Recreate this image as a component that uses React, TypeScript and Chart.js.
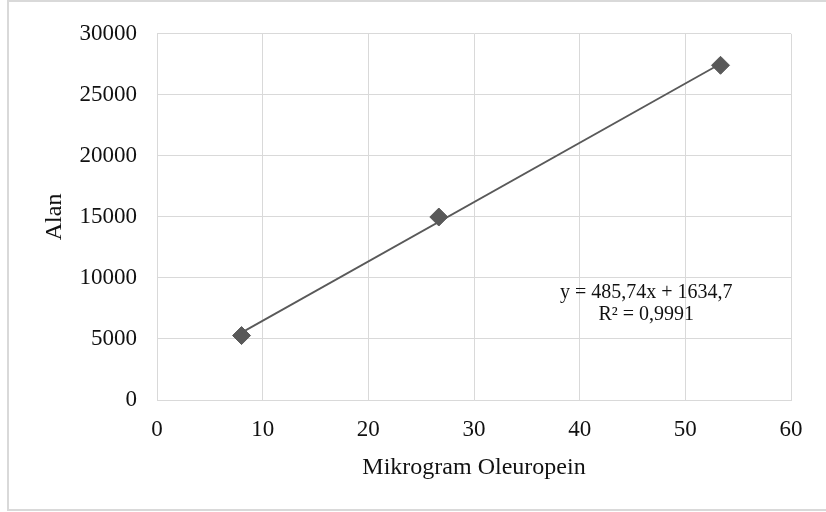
import React, { useEffect, useRef } from "react";
import { Chart, registerables } from "chart.js";

Chart.register(...registerables);

// Data
const microgramValues = [8, 26.67, 53.33];
const areaValues = [5280, 14990, 27420];

// Trendline coefficients (as printed on the chart)
const trendSlope = 485.74;
const trendIntercept = 1634.7;
const equationLines = ["y = 485,74x + 1634,7", "R\u00B2 = 0,9991"];

const xTitle = "Mikrogram Oleuropein";
const yTitle = "Alan";

const FONT = "'Liberation Serif', 'Times New Roman', serif";

export default function App() {
  const ref = useRef<HTMLCanvasElement | null>(null);

  useEffect(() => {
    if (!ref.current) return;
    const xMin = Math.min(...microgramValues);
    const xMax = Math.max(...microgramValues);
    const trend = [xMin, xMax].map((x) => ({ x, y: trendSlope * x + trendIntercept }));
    const points = microgramValues.map((x, i) => ({ x, y: areaValues[i] }));

    const equationPlugin = {
      id: "equationLabel",
      afterDatasetsDraw(chart: any) {
        const { ctx, scales } = chart;
        const cx = scales.x.getPixelForValue(46.3);
        const cy = scales.y.getPixelForValue(8750);
        ctx.save();
        ctx.font = `20px ${FONT}`;
        ctx.fillStyle = "#111";
        ctx.textAlign = "center";
        ctx.textBaseline = "middle";
        equationLines.forEach((t, i) => ctx.fillText(t, cx, cy + i * 22));
        ctx.restore();
      },
    };

    const chart = new Chart(ref.current, {
      type: "scatter",
      data: {
        datasets: [
          {
            type: "line",
            data: trend,
            borderColor: "#595959",
            borderWidth: 1.8,
            pointRadius: 0,
            fill: false,
          } as any,
          {
            data: points,
            pointStyle: "rectRot",
            pointRadius: 9,
            backgroundColor: "#595959",
            borderColor: "#595959",
            borderWidth: 1,
          },
        ],
      },
      options: {
        animation: false,
        responsive: false,
        maintainAspectRatio: false,
        layout: { padding: { left: 0, top: 30, right: 35, bottom: 0 } },
        plugins: {
          legend: { display: false },
          tooltip: { enabled: false },
        },
        scales: {
          x: {
            type: "linear",
            min: 0,
            max: 60,
            ticks: {
              stepSize: 10,
              color: "#111",
              font: { family: FONT, size: 23 },
              padding: 16,
              callback: (v: any) => String(v),
            },
            grid: { color: "#d9d9d9", lineWidth: 1, drawTicks: false },
            border: { color: "#d9d9d9", width: 1 },
            title: {
              display: true,
              text: xTitle,
              color: "#111",
              font: { family: FONT, size: 24 },
              padding: { top: 0, bottom: 30 },
            },
            afterFit(scale: any) {
              scale.height = 112;
            },
          },
          y: {
            type: "linear",
            min: 0,
            max: 30000,
            ticks: {
              stepSize: 5000,
              color: "#111",
              font: { family: FONT, size: 23 },
              padding: 20,
              callback: (v: any) => String(v),
            },
            grid: { color: "#d9d9d9", lineWidth: 1, drawTicks: false },
            border: { color: "#d9d9d9", width: 1 },
            title: {
              display: true,
              text: yTitle,
              color: "#111",
              font: { family: FONT, size: 24 },
              padding: { top: 40, bottom: 0 },
            },
            afterFit(scale: any) {
              scale.width = 157;
            },
          },
        },
      },
      plugins: [equationPlugin],
    });
    return () => chart.destroy();
  }, []);

  return (
    <div style={{ position: "absolute", left: 0, top: 0, width: 826, height: 512, background: "#fff" }}>
      <div
        style={{
          position: "absolute",
          left: 7,
          top: 0,
          width: 819,
          height: 511,
          boxSizing: "border-box",
          borderTop: "2px solid #d9d9d9",
          borderLeft: "2px solid #d9d9d9",
          borderBottom: "2px solid #d9d9d9",
        }}
      />
      <canvas
        ref={ref}
        width={826}
        height={512}
        style={{ position: "absolute", left: 0, top: 0, width: 826, height: 512 }}
      />
    </div>
  );
}
